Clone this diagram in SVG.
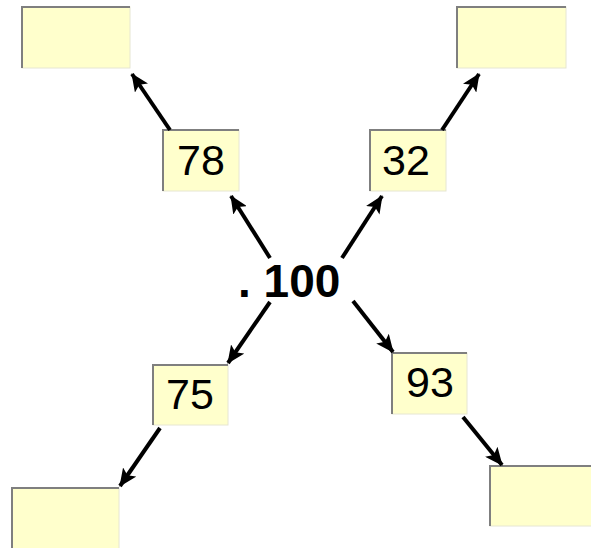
<svg xmlns="http://www.w3.org/2000/svg" width="591" height="548" viewBox="0 0 591 548">
<defs>
<marker id="ah" markerUnits="userSpaceOnUse" markerWidth="18" markerHeight="16" viewBox="0 0 18 16" refX="17" refY="8" orient="auto">
<path d="M0,0 L18,8 L0,16 L4,8 Z" fill="#000"/>
</marker>
</defs>
<style>
.box{fill:#FFFFCC;stroke:#E6E6D2;stroke-width:1}
.edge{fill:none;stroke:#7F7F7F;stroke-width:2}
.lbl{font-family:"Liberation Sans",Arial,sans-serif;font-size:43px;fill:#000;text-anchor:middle}
.conn line{stroke:#000;stroke-width:4;marker-end:url(#ah)}
</style>
<g id="box-tl"><rect class="box" x="22" y="7" width="108" height="61"/><path class="edge" d="M22,68 V7 H130"/></g>
<g id="box-tr"><rect class="box" x="457" y="7" width="109" height="61"/><path class="edge" d="M457,68 V7 H566"/></g>
<g id="box-bl"><rect class="box" x="12" y="488" width="107" height="62"/><path class="edge" d="M12,550 V488 H119"/></g>
<g id="box-br"><rect class="box" x="490" y="466" width="103" height="60"/><path class="edge" d="M490,526 V466 H593"/></g>
<g id="n78"><rect class="box" x="163" y="130" width="76" height="61"/><path class="edge" d="M163,191 V130 H239"/><text class="lbl" x="201" y="175">78</text></g>
<g id="n32"><rect class="box" x="370" y="130" width="76" height="61"/><path class="edge" d="M370,191 V130 H446"/><text class="lbl" x="406" y="175">32</text></g>
<g id="n75"><rect class="box" x="153" y="365" width="75" height="60"/><path class="edge" d="M153,425 V365 H228"/><text class="lbl" x="190" y="409">75</text></g>
<g id="n93"><rect class="box" x="392" y="353" width="75" height="61"/><path class="edge" d="M392,414 V353 H467"/><text class="lbl" x="430" y="397">93</text></g>
<g id="center"><text x="238" y="297" style="font-family:'Liberation Sans',Arial,sans-serif;font-size:46px;font-weight:bold;fill:#000">. 100</text></g>
<g id="connectors" class="conn">
<line x1="270" y1="258" x2="231" y2="196"/>
<line x1="170" y1="130" x2="132" y2="74"/>
<line x1="342" y1="258" x2="382" y2="196"/>
<line x1="442" y1="130" x2="479" y2="74"/>
<line x1="270" y1="302" x2="228" y2="363"/>
<line x1="160" y1="428" x2="120" y2="486"/>
<line x1="353" y1="301" x2="393" y2="352"/>
<line x1="463" y1="417" x2="502" y2="465"/>
</g>
</svg>
